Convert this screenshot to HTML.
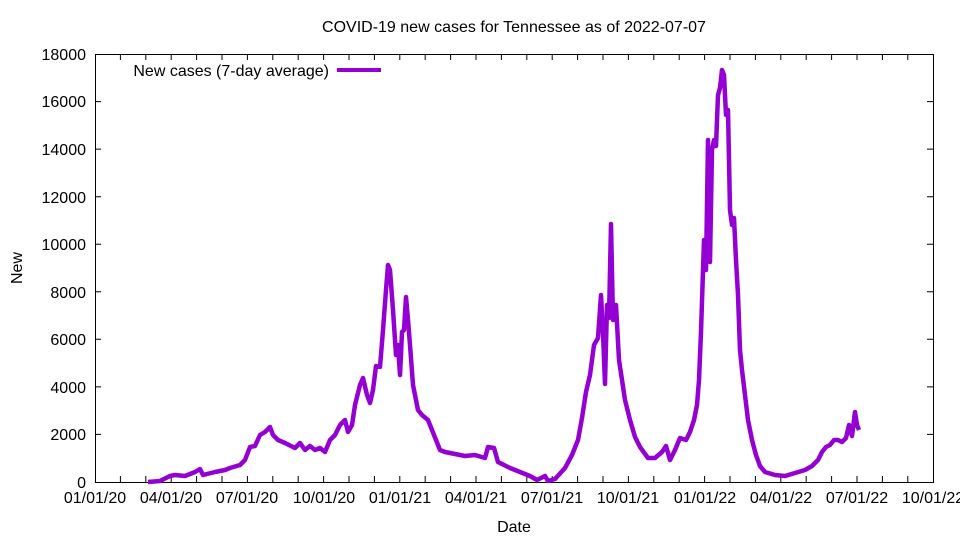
<!DOCTYPE html>
<html><head><meta charset="utf-8"><style>
html,body{margin:0;padding:0;background:#fff;}
svg{display:block;font-family:"Liberation Sans",sans-serif;}
</style></head><body>
<svg width="960" height="540" viewBox="0 0 960 540" xmlns="http://www.w3.org/2000/svg">
<rect width="960" height="540" fill="#fff"/>
<text x="514" y="32" font-size="16" text-anchor="middle">COVID-19 new cases for Tennessee as of 2022-07-07</text>
<g font-size="16" text-anchor="end">
<text x="86" y="488">0</text>
<text x="86" y="440">2000</text>
<text x="86" y="393">4000</text>
<text x="86" y="345">6000</text>
<text x="86" y="298">8000</text>
<text x="86" y="250">10000</text>
<text x="86" y="203">12000</text>
<text x="86" y="155">14000</text>
<text x="86" y="107">16000</text>
<text x="86" y="60">18000</text>
</g>
<g font-size="16" text-anchor="middle">
<text x="95" y="503">01/01/20</text>
<text x="171" y="503">04/01/20</text>
<text x="247" y="503">07/01/20</text>
<text x="324" y="503">10/01/20</text>
<text x="400" y="503">01/01/21</text>
<text x="476" y="503">04/01/21</text>
<text x="552" y="503">07/01/21</text>
<text x="628" y="503">10/01/21</text>
<text x="705" y="503">01/01/22</text>
<text x="781" y="503">04/01/22</text>
<text x="857" y="503">07/01/22</text>
<text x="933" y="503">10/01/22</text>
<text x="514" y="532">Date</text>
</g>
<text x="22" y="268" font-size="16" text-anchor="middle" transform="rotate(-90 22 268)">New</text>
<g stroke="#000" stroke-width="1" fill="none">
<rect x="95.5" y="54.5" width="838" height="428"/>
<path d="M95 434.4h6M95 386.9h6M95 339.3h6M95 291.8h6M95 244.2h6M95 196.7h6M95 149.1h6M95 101.6h6M933 434.4h-6M933 386.9h-6M933 339.3h-6M933 291.8h-6M933 244.2h-6M933 196.7h-6M933 149.1h-6M933 101.6h-6"/>
<path d="M120.4 482v-6M145.8 482v-6M171.2 482v-6M196.6 482v-6M222 482v-6M247.4 482v-6M272.8 482v-6M298.2 482v-6M323.6 482v-6M349 482v-6M374.4 482v-6M399.8 482v-6M425.2 482v-6M450.6 482v-6M476 482v-6M501.4 482v-6M526.8 482v-6M552.2 482v-6M577.6 482v-6M603 482v-6M628.4 482v-6M653.8 482v-6M679.2 482v-6M704.6 482v-6M730 482v-6M755.4 482v-6M780.8 482v-6M806.2 482v-6M831.6 482v-6M857 482v-6M882.4 482v-6M907.8 482v-6
M120.4 54v6M145.8 54v6M171.2 54v6M196.6 54v6M222 54v6M247.4 54v6M272.8 54v6M298.2 54v6M323.6 54v6M349 54v6M374.4 54v6M399.8 54v6M425.2 54v6M450.6 54v6M476 54v6M501.4 54v6M526.8 54v6M552.2 54v6M577.6 54v6M603 54v6M628.4 54v6M653.8 54v6M679.2 54v6M704.6 54v6M730 54v6M755.4 54v6M780.8 54v6M806.2 54v6M831.6 54v6M857 54v6M882.4 54v6M907.8 54v6"/>
</g>
<text x="329" y="76" font-size="16" text-anchor="end">New cases (7-day average)</text>
<line x1="337" y1="70" x2="381" y2="70" stroke="#9400d3" stroke-width="4"/>
<polyline fill="none" stroke="#9400d3" stroke-width="4.5" stroke-linejoin="round" points="148,482 160,481 170,476 175,475 185,476 195,472 200,469 203,475 215,472 225,470 230,468 240,465 245,460 250,447 255,446 260,435 265,432 270,427 273,435 278,440 285,443 295,448 300,443 305,450 310,446 315,450 320,448 325,452 330,440 335,435 340,425 345,420 348,432 352,425 355,405 360,385 363,378 367,395 370,403 373,390 376,366 380,367 383,330 386,290 388,265 390,270 393,310 396,355 398,345 400,375 402,332 404,330 406,297 408,320 410,345 413,385 418,410 422,415 428,420 432,430 440,450 445,452 455,454 465,456 475,455 485,458 488,447 494,448 498,462 510,468 520,472 530,476 537,480 545,476 548,481 555,479 565,468 572,455 578,440 582,418 586,392 590,375 594,345 598,338 601,295 603,333 605,384 607,305 609,318 611,224 613,320 616,305 619,360 622,380 625,400 630,420 635,437 640,447 648,458 655,458 662,452 666,446 670,460 675,450 680,438 686,440 690,432 694,420 697,405 699,380 701,332 704,240 706,270 708,140 710,262 712,150 714,140 716,146 718,95 720,88 722,70 724,75 726,115 728,110 730,210 732,225 734,218 736,260 738,295 740,350 742,370 745,395 748,420 752,440 756,455 760,466 765,472 775,475 785,476 795,473 805,470 812,466 818,460 822,452 826,447 830,445 834,440 838,440 842,442 846,438 849,425 852,436 855,412 857,425 859,430"/>
</svg>
</body></html>
